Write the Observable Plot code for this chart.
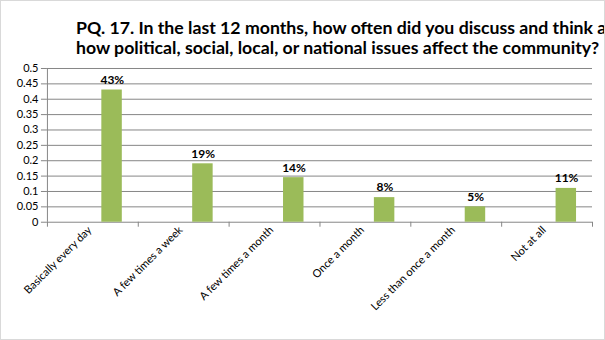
<!DOCTYPE html>
<html>
<head>
<meta charset="utf-8">
<script src="https://cdn.jsdelivr.net/npm/d3@7"></script>
<script src="https://cdn.jsdelivr.net/npm/@observablehq/plot@0.6"></script>
<style>
  body { margin: 0; background: #fff; }
  #chart { position: relative; width: 603px; height: 338px; border: 1px solid #d9d9d9; overflow: hidden; background: #fff; font-family: Lato, "DejaVu Sans", sans-serif; }
  #title { position: absolute; left: 75px; top: 17px; font-size: 17.7px; line-height: 20px; font-weight: bold; white-space: nowrap; color: #000; }
  #plot { position: absolute; left: -1px; top: 59px; }
</style>
</head>
<body>
<div id="chart">
  <div id="title">PQ. 17. In the last 12 months, how often did you discuss and think about<br>how political, social, local, or national issues affect the community?</div>
  <div id="plot"></div>
</div>
<script>
const categories = ["Basically every day", "A few times a week", "A few times a month", "Once a month", "Less than once a month", "Not at all"];
const values = [0.43, 0.19, 0.145, 0.08, 0.05, 0.11];
const labels = ["43%", "19%", "14%", "8%", "5%", "11%"];
const yTicks = [0, 0.05, 0.1, 0.15, 0.2, 0.25, 0.3, 0.35, 0.4, 0.45, 0.5];

const data = categories.map((c, i) => ({category: c, i, value: values[i], label: labels[i]}));
const boundaries = d3.range(categories.length + 1);
const centers = categories.map((c, i) => i + 0.5);

const chart = Plot.plot({
  width: 605,
  height: 280,
  marginTop: 8,
  marginBottom: 118,
  marginLeft: 47,
  marginRight: 12,
  style: {fontFamily: "Lato, 'DejaVu Sans', sans-serif", fontSize: "11px", color: "#000", background: "transparent"},
  x: {type: "linear", domain: [0, categories.length], label: null},
  y: {domain: [0, 0.5], label: null},
  marks: [
    Plot.gridY(yTicks, {stroke: "#868686", strokeOpacity: 1}),
    Plot.ruleX([0], {stroke: "#868686"}),
    Plot.axisY({ticks: yTicks, tickSize: 6, tickPadding: 3, stroke: "#868686", fill: "#000", tickFormat: d => String(d), fontSize: 11, label: null}),
    Plot.axisX({ticks: boundaries, tickSize: 5, tickFormat: () => "", stroke: "#868686", label: null}),
    Plot.axisX({ticks: centers, tickSize: 0, tickPadding: 6, tickRotate: -45, tickFormat: d => categories[Math.floor(d)], fill: "#000", dx: -3, fontSize: 11, label: null}),
    Plot.rectY(data, {x1: "i", x2: d => d.i + 1, y: "value", fill: "#9BBB59", insetLeft: 54.5, insetRight: 16}),
    Plot.text(data, {x: d => d.i + 0.5, y: "value", text: "label", dx: 19.5, dy: -10, fontWeight: "bold", fontSize: 12, fill: "#000"})
  ]
});
document.getElementById("plot").appendChild(chart);
</script>
</body>
</html>
